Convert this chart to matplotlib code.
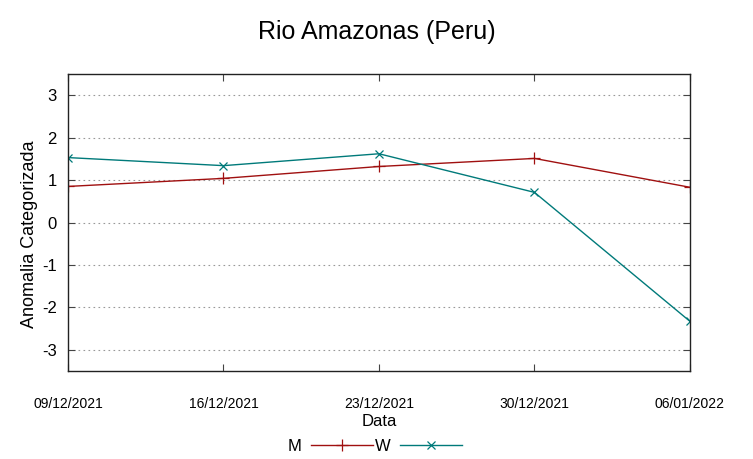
import matplotlib.pyplot as plt
import numpy as np

plt.rcParams['font.family'] = ['Liberation Sans', 'DejaVu Sans']

# dados
datas = ['09/12/2021', '16/12/2021', '23/12/2021', '30/12/2021', '06/01/2022']
serie_m = [0.85, 1.04, 1.32, 1.51, 0.83]
serie_w = [1.53, 1.34, 1.62, 0.71, -2.33]
y_ticks = [-3, -2, -1, 0, 1, 2, 3]

x = np.arange(len(datas))

fig = plt.figure(figsize=(7.53, 4.59), dpi=100)
ax = fig.add_axes([0.0903, 0.1917, 0.8260, 0.6471])

ax.plot(x, serie_m, color='#a01010', lw=1.0, marker='+', ms=8, mew=0.9, label='M')
ax.plot(x, serie_w, color='#007a7a', lw=1.0, marker='x', ms=6, mew=0.9, label='W')

ax.set_xlim(x[0], x[-1])
ax.set_ylim(-3.5, 3.5)
ax.set_xticks(x)
ax.set_xticklabels(datas, fontsize=10)
ax.set_yticks(y_ticks)
ax.set_yticklabels([str(v) for v in y_ticks], fontsize=12)
ax.tick_params(direction='in', top=True, right=True, length=5, width=0.8, color='#444444')
ax.tick_params(axis='x', pad=19)
ax.tick_params(axis='y', pad=8)
ax.yaxis.grid(True, linestyle=(0, (1.5, 3)), color='#999999', lw=0.8)
for s in ax.spines.values():
    s.set_linewidth(1.0)
    s.set_color('#222222')

ax.set_xlabel('Data', fontsize=12, labelpad=2)
ax.set_ylabel('Anomalia Categorizada', fontsize=13)
ax.yaxis.set_label_coords(-0.049, 0.462)
fig.suptitle('Rio Amazonas (Peru)', fontsize=18, y=0.957)

ax.legend(loc='upper center', bbox_to_anchor=(0.493, -0.205), ncol=2, frameon=False,
          markerfirst=False, handlelength=3.7, fontsize=12, columnspacing=0.1,
          handletextpad=0.6, borderaxespad=0)

fig.savefig('out.png', dpi=100)
